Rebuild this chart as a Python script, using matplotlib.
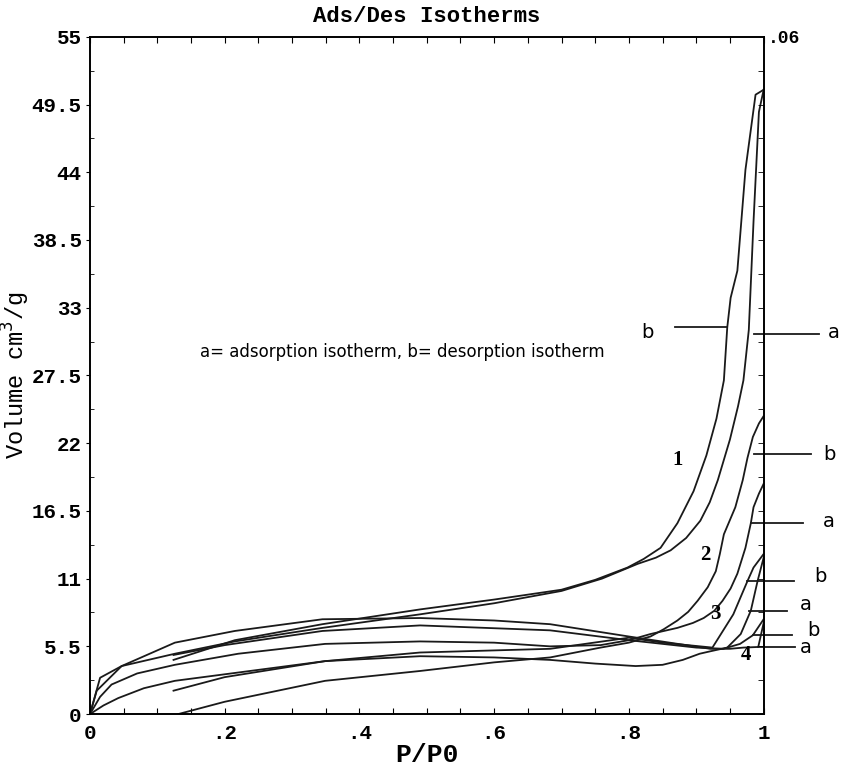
import numpy as np
import matplotlib.pyplot as plt
from matplotlib.ticker import MultipleLocator, FixedLocator

# ---- isotherm data (P/P0, volume cm3/g) ----
# sample 1
a1_x = [0, 0.01, 0.047, 0.126, 0.215, 0.345, 0.49, 0.6, 0.7, 0.76, 0.813, 0.84, 0.862, 0.885, 0.906,
        0.92, 0.932, 0.95, 0.962, 0.97, 0.978, 0.985, 0.993, 1.0]
a1_y = [0, 1.9, 3.9, 4.9, 5.9, 7.0, 8.1, 9.0, 10.0, 11.0, 12.2, 12.7, 13.3, 14.3, 15.7,
        17.2, 19.0, 22.3, 25.0, 27.1, 31.2, 40.0, 48.9, 50.7]
b1_x = [1.0, 0.988, 0.973, 0.961, 0.951, 0.946, 0.941, 0.93, 0.915, 0.896, 0.872, 0.847, 0.822,
        0.798, 0.75, 0.7, 0.6, 0.49, 0.345, 0.215, 0.124]
b1_y = [50.7, 50.3, 44.2, 36.0, 33.8, 31.4, 27.1, 24.0, 21.0, 18.1, 15.5, 13.5, 12.6,
        11.9, 10.9, 10.1, 9.3, 8.5, 7.3, 6.0, 4.4]

# sample 2
a2_x = [0, 0.015, 0.032, 0.07, 0.126, 0.22, 0.349, 0.49, 0.6, 0.683, 0.758, 0.8, 0.832, 0.872, 0.895,
        0.911, 0.927, 0.939, 0.951, 0.961, 0.973, 0.981, 0.985, 0.993, 1.0]
a2_y = [0, 1.4, 2.4, 3.3, 4.0, 4.9, 5.7, 5.9, 5.8, 5.5, 5.6, 6.0, 6.5, 7.0, 7.4,
        7.8, 8.4, 9.2, 10.2, 11.4, 13.5, 15.5, 16.8, 17.9, 18.7]
b2_x = [1.0, 0.993, 0.984, 0.976, 0.969, 0.958, 0.941, 0.935, 0.929, 0.917, 0.902, 0.888, 0.872,
        0.852, 0.832, 0.8, 0.758, 0.683, 0.6, 0.49, 0.349, 0.2, 0.131]
b2_y = [24.2, 23.6, 22.5, 20.8, 19.0, 16.8, 14.6, 13.0, 11.6, 10.3, 9.2, 8.3, 7.6,
        6.9, 6.3, 5.8, 5.4, 4.6, 4.2, 3.5, 2.7, 1.0, 0.0]

# sample 3
a3_x = [0, 0.02, 0.042, 0.08, 0.126, 0.349, 0.49, 0.6, 0.683, 0.75, 0.81, 0.85, 0.88, 0.905, 0.921,
        0.946, 0.966, 0.981, 0.991, 1.0]
a3_y = [0, 0.7, 1.3, 2.1, 2.7, 4.3, 4.7, 4.6, 4.4, 4.1, 3.9, 4.0, 4.4, 4.9, 5.1,
        5.4, 6.5, 8.4, 10.8, 12.7]
b3_x = [1.0, 0.985, 0.976, 0.955, 0.924, 0.85, 0.8, 0.683, 0.49, 0.349, 0.2, 0.124]
b3_y = [13.0, 11.9, 10.8, 8.1, 5.4, 5.8, 6.2, 5.3, 5.0, 4.3, 3.0, 1.9]

# sample 4
a4_x = [0, 0.015, 0.047, 0.126, 0.215, 0.345, 0.49, 0.6, 0.683, 0.8, 0.921, 0.95, 0.97, 0.992, 1.0]
a4_y = [0, 2.95, 3.9, 5.8, 6.75, 7.7, 7.8, 7.6, 7.3, 6.3, 5.3, 5.3, 5.4, 5.45, 7.4]
b4_x = [1.0, 0.984, 0.965, 0.94, 0.9, 0.8, 0.683, 0.49, 0.345, 0.2, 0.124]
b4_y = [7.7, 6.4, 5.7, 5.3, 5.4, 6.0, 6.8, 7.2, 6.75, 5.6, 4.8]

# ---- branch tags (a / b) and sample numbers ----
tag_text = ['b', 'a', 'b', 'a', 'b', 'a', 'b', 'a']
tag_x = [0.828, 1.104, 1.097, 1.097, 1.085, 1.062, 1.074, 1.062]
tag_y = [31.0, 31.0, 21.1, 15.6, 11.2, 8.9, 6.8, 5.4]
lead_x0 = [0.869, 0.985, 0.985, 0.981, 0.976, 0.978, 0.984, 0.992]
lead_x1 = [0.946, 1.082, 1.070, 1.059, 1.045, 1.034, 1.042, 1.047]
lead_y = [31.4, 30.9, 21.1, 15.5, 10.8, 8.4, 6.4, 5.45]

num_text = ['1', '2', '3', '4']
num_x = [0.872, 0.914, 0.929, 0.973]
num_y = [20.6, 12.9, 8.1, 4.8]

mono = 'Liberation Mono'

fig = plt.figure(figsize=(8.41, 7.67), dpi=100)
ax = fig.add_axes([0.107, 0.069, 0.801, 0.883])

lc = '#1a1a1a'
for xs, ys in [(a1_x, a1_y), (b1_x, b1_y), (a2_x, a2_y), (b2_x, b2_y),
               (a3_x, a3_y), (b3_x, b3_y), (a4_x, a4_y), (b4_x, b4_y)]:
    ax.plot(xs, ys, color=lc, lw=1.3, solid_joinstyle='round')

ax.set_xlim(0, 1)
ax.set_ylim(0, 55)

# axis ticks
ax.xaxis.set_major_locator(FixedLocator([0, 0.2, 0.4, 0.6, 0.8, 1.0]))
ax.set_xticklabels(['0', '.2', '.4', '.6', '.8', '1'])
ax.xaxis.set_minor_locator(MultipleLocator(0.05))
yt = np.arange(0, 56, 5.5)
ax.set_yticks(yt)
ax.set_yticklabels(['0', '5.5', '11', '16.5', '22', '27.5', '33', '38.5', '44', '49.5', '55'])
ax.yaxis.set_minor_locator(MultipleLocator(2.75))
ax.tick_params(axis='x', which='both', direction='in', top=True, length=4, width=0.8, pad=7)
ax.tick_params(axis='y', which='major', direction='out', length=3, width=0.8, pad=3)
ax.tick_params(axis='y', which='minor', direction='in', length=3, width=0.6)
for lab in ax.get_xticklabels() + ax.get_yticklabels():
    lab.set_fontfamily(mono)
    lab.set_fontweight('bold')
    lab.set_fontsize(15)
for s in ax.spines.values():
    s.set_linewidth(1.4)

# right axis
ax2 = ax.twinx()
ax2.set_ylim(0, 0.06)
ax2.set_yticks([0.06])
ax2.set_yticklabels(['.06'], fontfamily=mono, fontweight='bold', fontsize=13)
ax2.yaxis.set_minor_locator(MultipleLocator(0.003))
ax2.tick_params(axis='y', which='both', direction='in', length=4, width=0.6, pad=3)
ax2.tick_params(axis='y', which='major', length=0)
for s in ax2.spines.values():
    s.set_visible(False)

ax.set_title('Ads/Des Isotherms', fontfamily=mono, fontweight='bold', fontsize=16, pad=11)
ax.set_xlabel('P/P0', fontfamily=mono, fontweight='bold', fontsize=19, labelpad=0)
ax.set_ylabel('Volume cm$^3$/g', fontfamily=mono, fontsize=17)
ax.yaxis.set_label_coords(-0.086, 0.5)

# sample numbers
for t, x, y in zip(num_text, num_x, num_y):
    ax.text(x, y, t, fontfamily='Liberation Serif', fontweight='bold', fontsize=15,
            ha='center', va='center')

# leader lines and a/b tags
for t, x, y, x0, x1, ly in zip(tag_text, tag_x, tag_y, lead_x0, lead_x1, lead_y):
    ax.plot([x0, x1], [ly, ly], color=lc, lw=1.3, clip_on=False)
    ax.text(x, y, t, fontsize=14, ha='center', va='center')

ax.text(0.464, 29.4, 'a= adsorption isotherm, b= desorption isotherm', fontsize=12,
        ha='center', va='center')

fig.savefig('out.png', dpi=100)
